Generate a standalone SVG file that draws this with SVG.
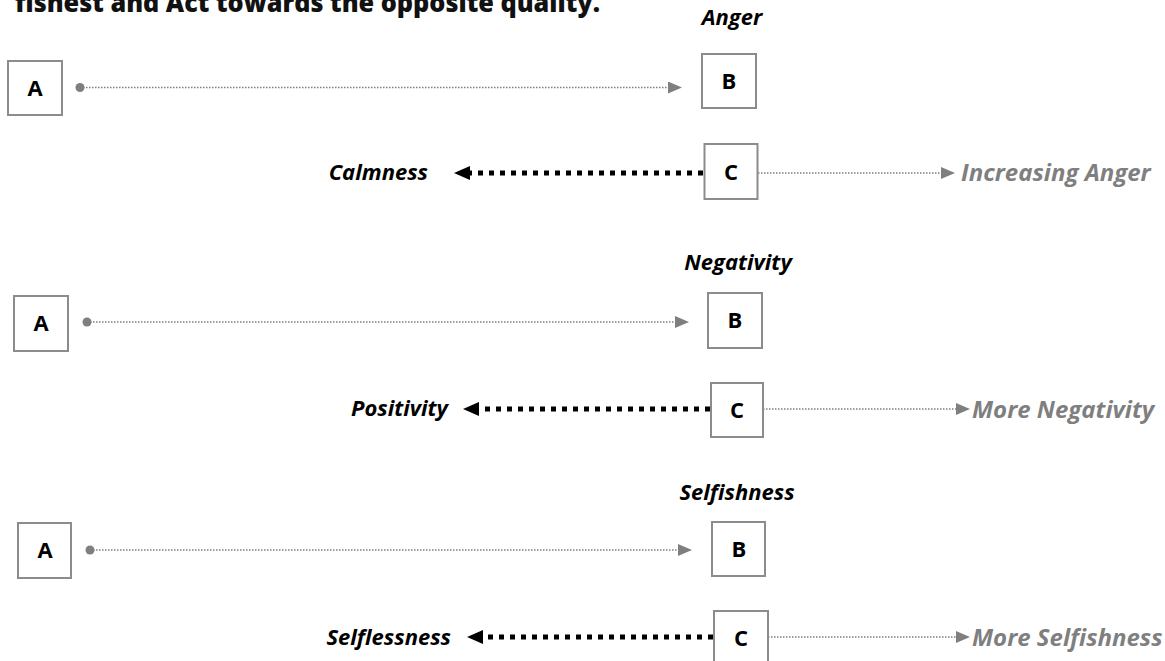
<svg xmlns="http://www.w3.org/2000/svg" width="1165" height="661" viewBox="0 0 1165 661">
<defs>
<style>
.box{fill:#fff;stroke:#8c8c8c;stroke-width:2}
.let{font-family:"Open Sans","Liberation Sans",sans-serif;font-weight:700;font-size:22px;fill:#000;text-anchor:middle}
.lab{font-family:"Open Sans","Liberation Sans",sans-serif;font-weight:700;font-style:italic;font-size:22px;fill:#000}
.glab{font-family:"Open Sans","Liberation Sans",sans-serif;font-weight:700;font-style:italic;font-size:24px;fill:#7f7f7f}
.title{font-family:"Open Sans","Liberation Sans",sans-serif;font-weight:800;font-size:26px;fill:#111}
.dot{fill:none;stroke:#7f7f7f;stroke-width:1.5;stroke-dasharray:1.5 1.5}
.dash{fill:none;stroke:#000;stroke-width:5;stroke-dasharray:5 6}
.ga{marker-start:url(#dotS);marker-end:url(#gArr)}
.gr{marker-end:url(#gArr)}
.bk{marker-end:url(#bArr)}
</style>
<marker id="gArr" markerUnits="userSpaceOnUse" markerWidth="16" markerHeight="14" refX="0" refY="6" orient="auto"><path d="M0,0 L14,6 L0,12 z" fill="#7f7f7f"/></marker>
<marker id="bArr" markerUnits="userSpaceOnUse" markerWidth="18" markerHeight="16" refX="0" refY="7" orient="auto"><path d="M0,0 L16,7 L0,14 z" fill="#000"/></marker>
<marker id="dotS" markerUnits="userSpaceOnUse" markerWidth="10" markerHeight="10" refX="5" refY="5"><circle cx="5" cy="5" r="4.5" fill="#7f7f7f"/></marker>
</defs>
<rect width="1165" height="661" fill="#fff"/>
<text class="title" x="15" y="12" textLength="585" lengthAdjust="spacingAndGlyphs">fishest and Act towards the opposite quality.</text>

<g id="connectors">
<line class="dot ga" x1="80" y1="87.5" x2="668" y2="87.5"/>
<line class="dash bk" x1="703" y1="173" x2="470" y2="173"/>
<line class="dot gr" x1="758" y1="173" x2="941" y2="173"/>

<line class="dot ga" x1="87" y1="322" x2="675" y2="322"/>
<line class="dash bk" x1="710" y1="409" x2="479" y2="409"/>
<line class="dot gr" x1="763" y1="409" x2="956" y2="409"/>

<line class="dot ga" x1="90" y1="550" x2="678" y2="550"/>
<line class="dash bk" x1="713" y1="637" x2="483" y2="637"/>
<line class="dot gr" x1="768" y1="637" x2="956" y2="637"/>
</g>

<g id="s1-A"><rect class="box" x="8" y="61" width="54" height="54"/><text class="let" x="35" y="96">A</text></g>
<g id="s1-B"><rect class="box" x="702" y="54" width="54" height="54"/><text class="let" x="729" y="89">B</text></g>
<g id="s1-C"><rect class="box" x="704.5" y="144" width="53" height="55"/><text class="let" x="731" y="180">C</text></g>
<g id="s1-labels">
<text class="lab" x="732" y="25" text-anchor="middle">Anger</text>
<text class="lab" x="428" y="180" text-anchor="end">Calmness</text>
<text class="glab" x="961" y="181">Increasing Anger</text>
</g>

<g id="s2-A"><rect class="box" x="14" y="296" width="54" height="55"/><text class="let" x="41" y="331">A</text></g>
<g id="s2-B"><rect class="box" x="708" y="293" width="54" height="55"/><text class="let" x="735" y="328">B</text></g>
<g id="s2-C"><rect class="box" x="711" y="383" width="52" height="54"/><text class="let" x="737" y="418">C</text></g>
<g id="s2-labels">
<text class="lab" x="738" y="270" text-anchor="middle">Negativity</text>
<text class="lab" x="448" y="416" text-anchor="end">Positivity</text>
<text class="glab" x="972" y="418">More Negativity</text>
</g>

<g id="s3-A"><rect class="box" x="18" y="523" width="53" height="55"/><text class="let" x="45" y="558">A</text></g>
<g id="s3-B"><rect class="box" x="712" y="522" width="53" height="54"/><text class="let" x="739" y="557">B</text></g>
<g id="s3-C"><rect class="box" x="714" y="611" width="54" height="55"/><text class="let" x="741" y="646">C</text></g>
<g id="s3-labels">
<text class="lab" x="737" y="500" text-anchor="middle">Selfishness</text>
<text class="lab" x="451" y="645" text-anchor="end" font-size="23">Selflessness</text>
<text class="glab" x="972" y="646" font-size="23.5">More Selfishness</text>
</g>
</svg>
